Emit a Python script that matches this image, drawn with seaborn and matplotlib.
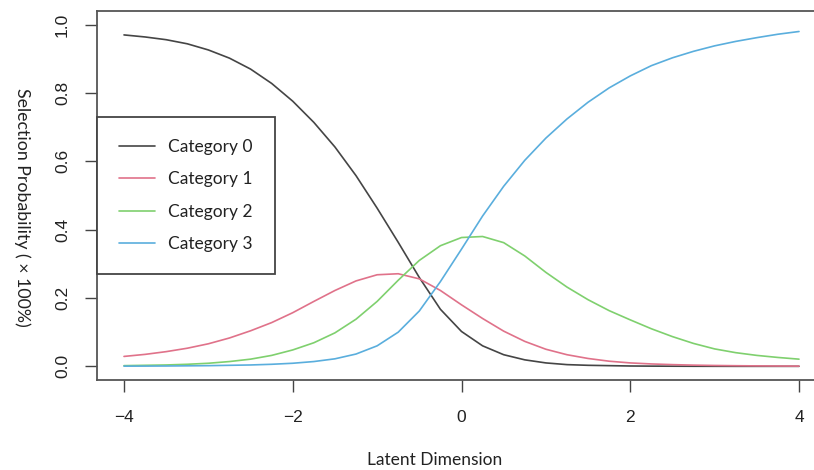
import numpy as np
import pandas as pd
import matplotlib
matplotlib.use("Agg")
import matplotlib.pyplot as plt
import seaborn as sns

# values (step 0.25 on the latent axis)
theta = [-4, -3.75, -3.5, -3.25, -3, -2.75, -2.5, -2.25, -2, -1.75, -1.5, -1.25, -1,
         -0.75, -0.5, -0.25, 0, 0.25, 0.5, 0.75, 1, 1.25, 1.5, 1.75, 2,
         2.25, 2.5, 2.75, 3, 3.25, 3.5, 3.75, 4]
cat0 = [0.970, 0.964, 0.956, 0.944, 0.926, 0.902, 0.870, 0.828, 0.776, 0.714, 0.642, 0.558, 0.463,
        0.363, 0.260, 0.167, 0.102, 0.060, 0.034, 0.019, 0.010, 0.005, 0.003, 0.002, 0.001,
        0.0006, 0.0004, 0.0002, 0.0001, 0.0, 0.0, 0.0, 0.0]
cat1 = [0.029, 0.035, 0.043, 0.053, 0.066, 0.083, 0.104, 0.128, 0.157, 0.190, 0.222, 0.250, 0.268,
        0.271, 0.256, 0.222, 0.180, 0.140, 0.103, 0.073, 0.050, 0.034, 0.023, 0.015, 0.010,
        0.007, 0.005, 0.0035, 0.0025, 0.0018, 0.0013, 0.0009, 0.0006]
cat2 = [0.002, 0.003, 0.004, 0.006, 0.009, 0.014, 0.021, 0.032, 0.048, 0.069, 0.098, 0.138, 0.190,
        0.252, 0.310, 0.353, 0.377, 0.380, 0.362, 0.323, 0.275, 0.232, 0.195, 0.163, 0.136,
        0.110, 0.087, 0.067, 0.051, 0.040, 0.032, 0.026, 0.021]
cat3 = [0.0005, 0.0007, 0.001, 0.0015, 0.002, 0.003, 0.004, 0.006, 0.009, 0.014, 0.022, 0.036, 0.060,
        0.100, 0.162, 0.248, 0.343, 0.440, 0.527, 0.603, 0.668, 0.724, 0.773, 0.815, 0.850,
        0.880, 0.903, 0.922, 0.938, 0.951, 0.962, 0.972, 0.980]

labels = ["Category 0", "Category 1", "Category 2", "Category 3"]
colors = ["#454545", "#E0728A", "#7FD06E", "#5AAEDD"]

df = pd.DataFrame({
    "theta": theta * 4,
    "prob": cat0 + cat1 + cat2 + cat3,
    "category": np.repeat(labels, len(theta)),
})

sns.set_theme(style="white")
plt.rcParams["font.family"] = ["Liberation Sans", "DejaVu Sans"]

fig = plt.figure(figsize=(8.14, 4.70), dpi=100)
ax = fig.add_axes([97 / 814, 90 / 470, 729 / 814, 369 / 470])

sns.lineplot(data=df, x="theta", y="prob", hue="category",
             palette=dict(zip(labels, colors)), linewidth=1.2, ax=ax, legend=True)

ax.set_xlim(-4.32, 4.32)
ax.set_ylim(-0.04, 1.04)
ax.set_xticks([-4, -2, 0, 2, 4])
ax.set_xticklabels(["\u22124", "\u22122", "0", "2", "4"])
ax.set_yticks([0.0, 0.2, 0.4, 0.6, 0.8, 1.0])
ax.set_yticklabels(["0.0", "0.2", "0.4", "0.6", "0.8", "1.0"], rotation=90, va="center")
ax.tick_params(axis="both", direction="out", length=8.5, width=1.0, color="#444",
               labelsize=12.5, labelcolor="#222", left=True, bottom=True)
ax.tick_params(axis="x", pad=13)
ax.tick_params(axis="y", pad=11)
for s in ax.spines.values():
    s.set_color("#555")
    s.set_linewidth(1.3)

ax.set_xlabel("")
ax.set_ylabel("")
fig.text(435 / 814, 1 - 460 / 470, "Latent Dimension", ha="center", va="center",
         fontsize=12.5, family="Lato", color="#222")
fig.text(22 / 814, 1 - 207 / 470, "Selection Probability ( \u00d7 100%)", ha="center", va="center",
         rotation=270, fontsize=12.8, family="Lato", color="#222")

handles, _ = ax.get_legend_handles_labels()
leg = ax.legend(handles=handles, labels=labels, loc="center left",
                bbox_to_anchor=(0.0, 0.5), frameon=True, fancybox=False,
                borderaxespad=0, prop={"family": "Lato", "size": 12.5},
                handlelength=2.1, handletextpad=0.75, labelspacing=0.95,
                borderpad=1.25, framealpha=1)
leg.get_frame().set_edgecolor("#444")
leg.get_frame().set_linewidth(1.3)
for t in leg.get_texts():
    t.set_color("#222")

fig.savefig("out.png", dpi=100)
